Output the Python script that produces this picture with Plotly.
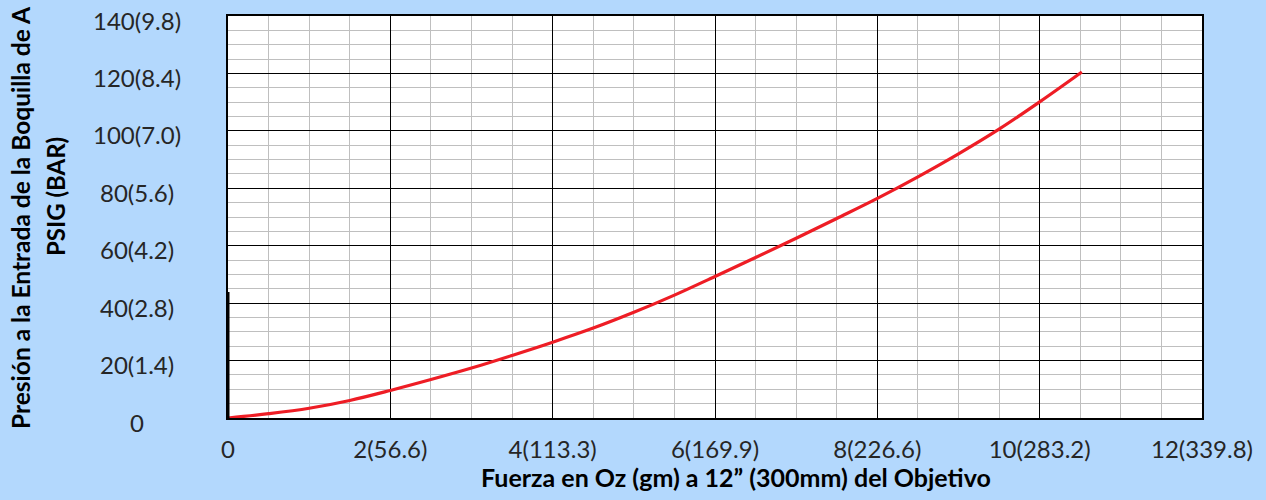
import plotly.graph_objects as go

# Data
fuerza_oz = [0, 0.5, 1, 1.5, 2, 2.5, 3, 3.5, 4, 4.5, 5, 5.5, 6, 6.5, 7, 7.5, 8, 8.5, 9, 9.5, 10, 10.52]
presion_psig = [0, 1.5, 3.4, 6.1, 9.6, 13.4, 17.4, 21.8, 26.4, 31.3, 36.8, 42.8, 49.3, 55.9, 62.6, 69.5, 76.5, 84.0, 92.0, 100.6, 110.1, 120.5]

x_tick_vals = [0, 2, 4, 6, 8, 10, 12]
x_tick_text = ["0", "2(56.6)", "4(113.3)", "6(169.9)", "8(226.6)", "10(283.2)", "12(339.8)"]
y_tick_vals = [0, 20, 40, 60, 80, 100, 120, 140]
y_tick_text = ["0", "20(1.4)", "40(2.8)", "60(4.2)", "80(5.6)", "100(7.0)", "120(8.4)", "140(9.8)"]

x_title = "Fuerza en Oz (gm) a 12\u201d (300mm) del Objetivo"
y_title_1 = "Presión a la Entrada de la Boquilla de A"
y_title_2 = "PSIG (BAR)"

BG = "#B3D8FD"
FONT = "Lato"
W, H = 1266, 500
L, R, T, B = 228, 64, 16, 82
plot_w = W - L - R
plot_h = H - T - B

fig = go.Figure()
fig.add_trace(go.Scatter(
    x=fuerza_oz, y=presion_psig, mode="lines",
    line=dict(color="#EE1D25", width=3.2, shape="spline", smoothing=1.0),
    hoverinfo="x+y", showlegend=False,
))

axis_common = dict(
    showline=True, mirror=True, linecolor="black", linewidth=1.5,
    showgrid=True, gridcolor="black", gridwidth=1.2,
    zeroline=False, ticks="",
)

fig.update_xaxes(
    range=[0, 12], tickvals=x_tick_vals, ticktext=x_tick_text,
    tickfont=dict(family=FONT, size=24, color="#262626"),
    ticklabelstandoff=9,
    minor=dict(dtick=0.5, showgrid=True, gridcolor="#BFBFBF", gridwidth=1.3),
    **axis_common,
)
fig.update_yaxes(
    range=[0, 140], tickvals=y_tick_vals, showticklabels=False,
    minor=dict(dtick=5, showgrid=True, gridcolor="#BFBFBF", gridwidth=1.3),
    **axis_common,
)

annotations = []
label_x = (137 - L) / plot_w
for v, t in zip(y_tick_vals, y_tick_text):
    annotations.append(dict(
        x=label_x, y=v, xref="paper", yref="y", text=t, showarrow=False,
        xanchor="center", yanchor="middle", yshift=-4,
        font=dict(family=FONT, size=24, color="#262626"),
    ))
annotations.append(dict(
    x=(736 - L) / plot_w, y=-(477 - (H - B)) / plot_h, xref="paper", yref="paper",
    text="<b>" + x_title + "</b>", showarrow=False, xanchor="center", yanchor="middle",
    font=dict(family=FONT, size=25, color="black"),
))
annotations.append(dict(
    x=(20 - L) / plot_w, y=(H - B - 218) / plot_h, xref="paper", yref="paper",
    text="<b>" + y_title_1 + "</b>", textangle=-90, showarrow=False,
    xanchor="center", yanchor="middle",
    font=dict(family=FONT, size=24.5, color="black"),
))
annotations.append(dict(
    x=(55 - L) / plot_w, y=(H - B - 197) / plot_h, xref="paper", yref="paper",
    text="<b>" + y_title_2 + "</b>", textangle=-90, showarrow=False,
    xanchor="center", yanchor="middle",
    font=dict(family=FONT, size=24, color="black"),
))

fig.update_layout(
    width=W, height=H,
    margin=dict(l=L, r=R, t=T, b=B),
    paper_bgcolor=BG, plot_bgcolor="white",
    annotations=annotations,
    shapes=[dict(type="line", xref="paper", yref="paper",
                 x0=0, x1=0, y0=0, y1=(H - B - 292) / plot_h,
                 line=dict(color="black", width=3))],
)

fig.write_html(
    "out.html",
    config={"displayModeBar": False},
    post_script="document.body.style.margin='0';document.body.style.padding='0';",
)
